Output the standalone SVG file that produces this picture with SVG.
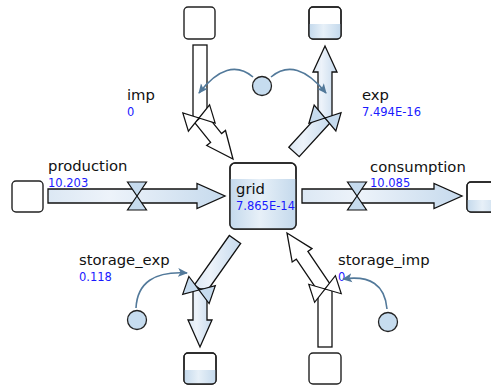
<svg xmlns="http://www.w3.org/2000/svg" width="491" height="387" viewBox="0 0 491 387">
<defs>
<linearGradient id="gFill" x1="0" y1="0" x2="1" y2="0">
<stop offset="0" stop-color="#c4d9ec"/>
<stop offset="0.45" stop-color="#e7f0f8"/>
<stop offset="1" stop-color="#c4d9ec"/>
</linearGradient>
<linearGradient id="gPipe" x1="0" y1="0" x2="1" y2="0">
<stop offset="0" stop-color="#dce8f4"/>
<stop offset="0.35" stop-color="#edf3fa"/>
<stop offset="1" stop-color="#c6daed"/>
</linearGradient>
<marker id="ah" viewBox="0 0 10 10" refX="9" refY="5" markerWidth="10" markerHeight="10" markerUnits="userSpaceOnUse" orient="auto">
<path d="M0,0.5 L10,5 L0,9.5 L2.5,5 Z" fill="#52799a"/>
</marker>
<path id="valve" d="M-9.5,-14 H9.5 L0,0 Z M-9.5,14 H9.5 L0,0 Z"/>
</defs>
<style>
.stock{fill:#fff;stroke:#222;stroke-width:1.4}
.stockline{fill:none;stroke:#222;stroke-width:1.4}
.level{fill:url(#gFill);stroke:none}
.pipe{fill:url(#gPipe);stroke:#111;stroke-width:1.3;stroke-linejoin:miter}
.pipe0{fill:#fff;stroke:#111;stroke-width:1.3;stroke-linejoin:miter}
.valve{fill:#c6dbee;stroke:#111;stroke-width:1.2}
.valve0{fill:#fff;stroke:#111;stroke-width:1.2}
.aux{fill:#c6dcef;stroke:#222;stroke-width:1.3}
.conn{fill:none;stroke:#52799a;stroke-width:1.6;marker-end:url(#ah)}
.lbl{font-family:"DejaVu Sans",Verdana,sans-serif;font-size:14.8px;fill:#111}
.val{font-family:"DejaVu Sans",Verdana,sans-serif;font-size:11.5px;fill:#1a1aff}
</style>

<!-- flows -->
<g id="flow_production">
<path class="pipe" d="M48,189 H197 V183.5 L225,196 L197,208.5 V203 H48 Z"/>
<use href="#valve" class="valve" transform="translate(137,196)"/>
<text class="lbl" x="48" y="171">production</text>
<text class="val" x="48" y="186.5">10.203</text>
</g>
<g id="flow_consumption">
<path class="pipe" d="M302,189 H434 V183.5 L462,196 L434,208.5 V203 H302 Z"/>
<use href="#valve" class="valve" transform="translate(357,196)"/>
<text class="lbl" x="370" y="171.5">consumption</text>
<text class="val" x="370" y="186.5">10.085</text>
</g>
<g id="flow_imp">
<rect class="pipe0" x="193" y="45" width="14" height="73"/>
<path class="pipe0" d="M205.5,113.6 L221.6,133.6 L225.5,130.5 L233,159 L206.7,145.5 L210.6,142.4 L194.5,122.4 Z"/>
<use href="#valve" class="valve0" transform="translate(199,118) rotate(73)"/>
<text class="lbl" x="127" y="100">imp</text>
<text class="val" x="127" y="115.5">0</text>
</g>
<g id="flow_exp">
<path class="pipe" d="M330.2,122.7 L319.8,113.3 L288.8,147.3 L299.2,156.7 Z"/>
<path class="pipe" d="M318,118 V72 H313 L325,46 L337,72 H332 V118 Z"/>
<use href="#valve" class="valve" transform="translate(325,118) rotate(-74)"/>
<text class="lbl" x="362" y="100">exp</text>
<text class="val" x="362" y="115.5">7.494E-16</text>
</g>
<g id="flow_storage_exp">
<path class="pipe" d="M240.7,243.5 L229.3,235.5 L194.3,285 L205.7,293 Z"/>
<path class="pipe" d="M193,289 V320 H188 L200,347 L212,320 H207 V289 Z"/>
<use href="#valve" class="valve" transform="translate(199,290) rotate(-71)"/>
<text class="lbl" x="79" y="265">storage_exp</text>
<text class="val" x="79" y="280.5">0.118</text>
</g>
<g id="flow_storage_imp">
<rect class="pipe0" x="318" y="289" width="14" height="58"/>
<path class="pipe0" d="M330.8,285.1 L307.9,251.4 L312,248.6 L287,233 L292.2,262 L296.3,259.2 L319.2,292.9 Z"/>
<use href="#valve" class="valve0" transform="translate(325,289) rotate(72)"/>
<text class="lbl" x="338" y="265">storage_imp</text>
<text class="val" x="338" y="280.5">0</text>
</g>

<!-- stocks -->
<g id="stock_grid">
<rect class="stock" x="230" y="163" width="66" height="66" rx="5"/>
<path class="level" d="M230,179 H296 V224 Q296,229 291,229 H235 Q230,229 230,224 Z"/>
<rect class="stockline" x="230" y="163" width="66" height="66" rx="5"/>
<text class="lbl" x="236" y="194">grid</text>
<text class="val" x="236" y="210">7.865E-14</text>
</g>
<g id="stock_production_src">
<rect class="stock" x="12" y="181" width="31" height="31" rx="4"/>
</g>
<g id="stock_consumption_sink">
<rect class="stock" x="467" y="182" width="34" height="30" rx="4"/>
<path class="level" d="M467,200 H501 V212 H471 Q467,212 467,208 Z"/>
<rect class="stockline" x="467" y="182" width="34" height="30" rx="4"/>
</g>
<g id="stock_imp_src">
<rect class="stock" x="184" y="7" width="31" height="32" rx="4"/>
</g>
<g id="stock_exp_sink">
<rect class="stock" x="309" y="7" width="32" height="32" rx="4"/>
<path class="level" d="M309,24 H341 V35 Q341,39 337,39 H313 Q309,39 309,35 Z"/>
<rect class="stockline" x="309" y="7" width="32" height="32" rx="4"/>
</g>
<g id="stock_storage_exp_sink">
<rect class="stock" x="184" y="353" width="32" height="31" rx="4"/>
<path class="level" d="M184,370 H216 V380 Q216,384 212,384 H188 Q184,384 184,380 Z"/>
<rect class="stockline" x="184" y="353" width="32" height="31" rx="4"/>
</g>
<g id="stock_storage_imp_src">
<rect class="stock" x="309" y="353" width="32" height="31" rx="4"/>
</g>

<!-- auxiliaries -->
<g id="aux_top"><circle class="aux" cx="262" cy="86" r="9.5"/></g>
<g id="aux_storage_exp"><circle class="aux" cx="137" cy="320" r="9.5"/></g>
<g id="aux_storage_imp"><circle class="aux" cx="388" cy="322" r="9.5"/></g>

<!-- connectors -->
<g id="connectors">
<path class="conn" d="M253,77 Q228,56 199,93"/>
<path class="conn" d="M271,77 Q296,56 326,93"/>
<path class="conn" d="M136,308 Q138,270 187,273"/>
<path class="conn" d="M387,309 Q384,273 343,279"/>
</g>
</svg>
